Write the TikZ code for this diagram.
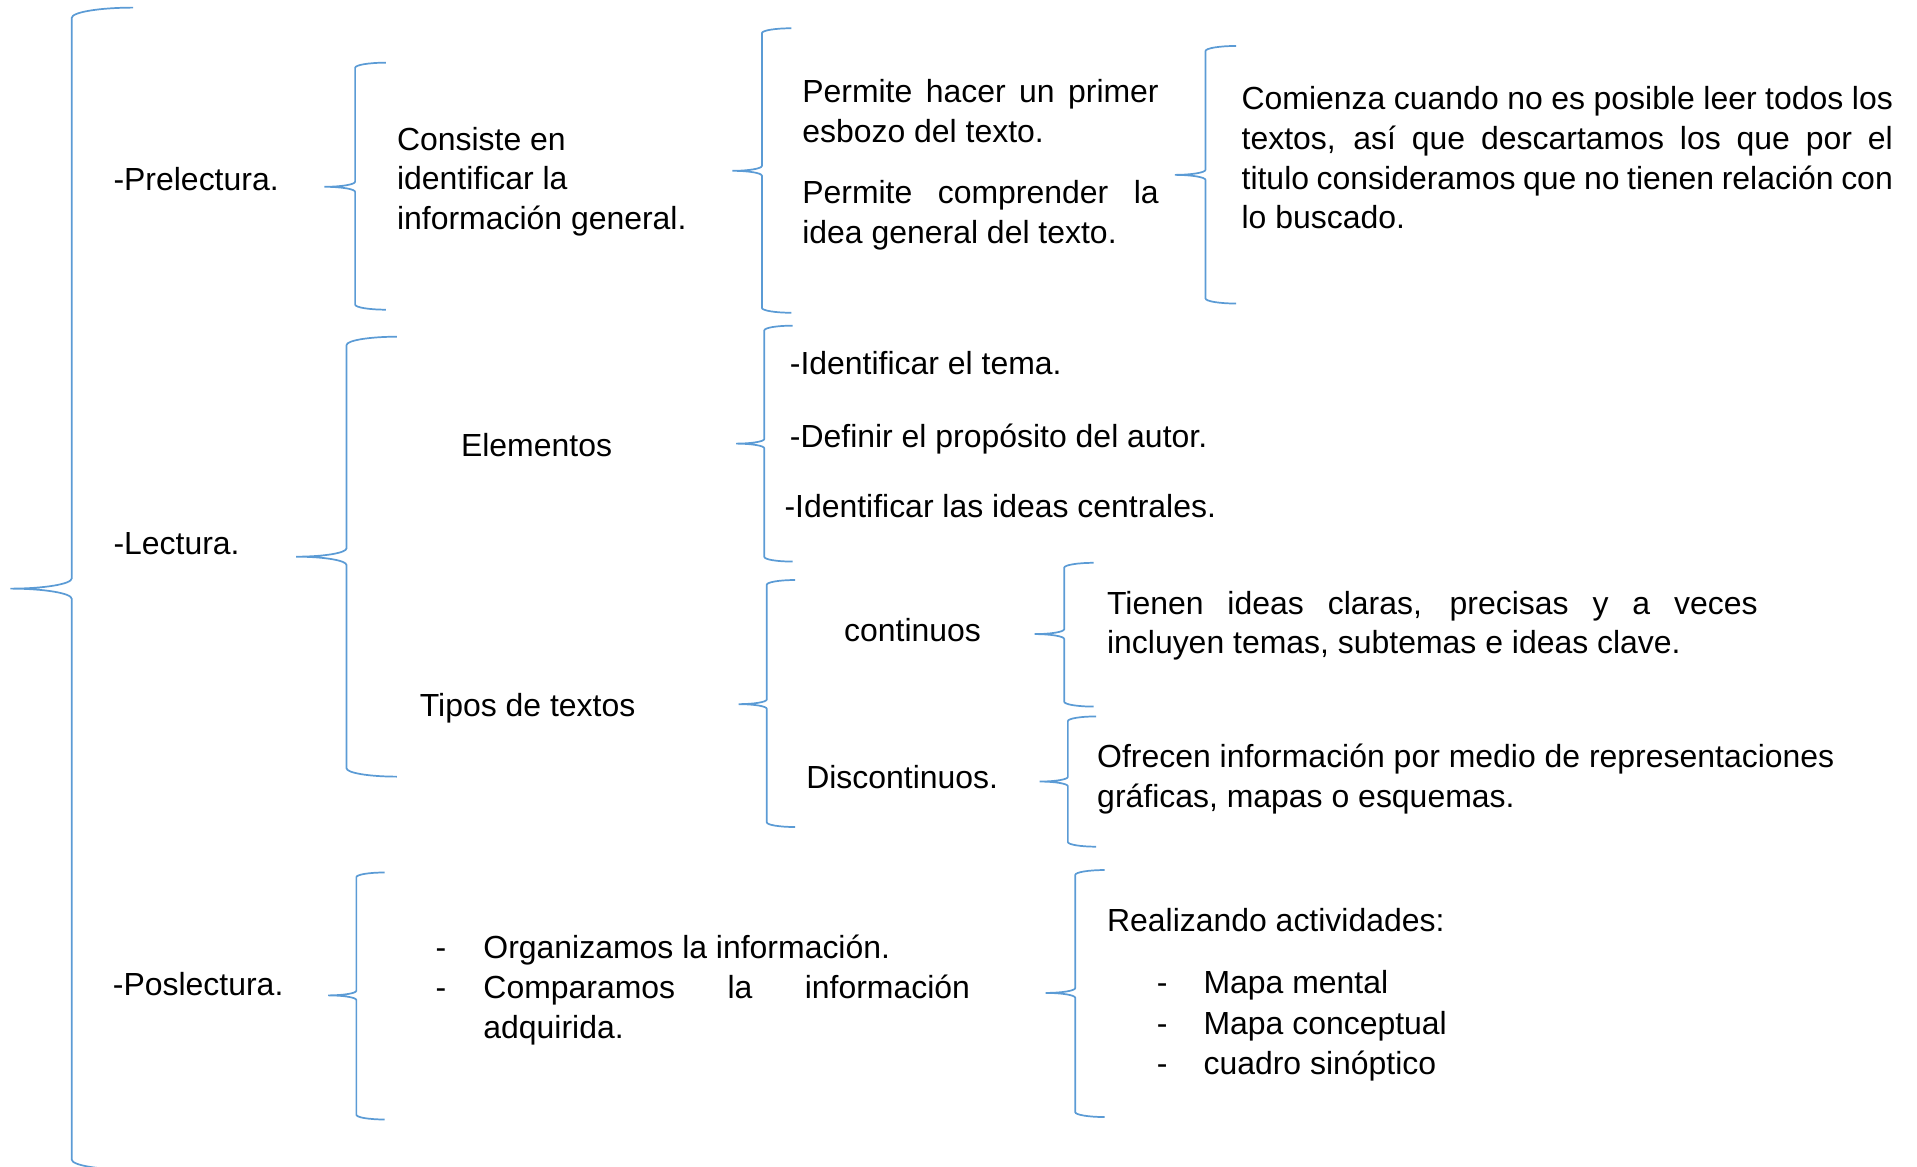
\documentclass[tikz,border=0pt]{standalone}
\usepackage{fontspec}
\setmainfont{Liberation Sans}
\usepackage{tikz}
\definecolor{azul}{RGB}{91,155,213}
\tolerance=9999
% llave: x, arriba, medio, abajo, ancho
\newcommand{\llave}[5]{%
	\draw[llave] ({#1+#5},#2) .. controls ({#1+0.448*#5},#2) and (#1,{#2+0.0747*#5}) .. (#1,{#2+#5/6})
	-- (#1,{#3-#5/6}) .. controls (#1,{#3-0.0747*#5}) and ({#1-0.448*#5},#3) .. ({#1-#5},#3)
	.. controls ({#1-0.448*#5},#3) and (#1,{#3+0.0747*#5}) .. (#1,{#3+#5/6})
	-- (#1,{#4-#5/6}) .. controls (#1,{#4-0.0747*#5}) and ({#1+0.448*#5},#4) .. ({#1+#5},#4);}

\begin{document}
\begin{tikzpicture}[x=0.5pt,y=-0.5pt,
	font=\fontsize{13}{16.2}\selectfont,
	llave/.style = {draw=azul,line width=0.7pt},
	txt/.style = {anchor=base west,inner sep=0pt},
	parrafo/.style = {txt,align=justify}
	]
	\useasboundingbox (0,0) rectangle (1560,949);
	%LLAVES
	\llave{58.4}{6.2}{479}{952}{50}
	\llave{289}{51}{152}{252}{25}
	\llave{282}{274}{453}{632}{41}
	\llave{290}{710}{810}{911}{23}
	\llave{620}{23}{139}{254.5}{24}
	\llave{981}{37.4}{142.3}{247}{25}
	\llave{622}{265}{361}{457}{23}
	\llave{624}{472}{573}{673}{23}
	\llave{866}{458}{516}{575}{24}
	\llave{869}{583}{636}{689}{23}
	\llave{875}{708}{808}{909}{24}
	%ETAPAS
	\node[txt] (pre) at (92,154.8) {-Prelectura.};
	\node[txt] (lec) at (92,451.6) {-Lectura.};
	\node[txt] (pos) at (91.5,810.2) {-Poslectura.};
	%PRELECTURA (base = ultima linea)
	\node[txt,align=left] (cons) at (322.7,186.9) {Consiste en\\identificar la\\información general.};
	\node[parrafo,text width=145pt] (perm1) at (652.5,83.5) {Permite hacer un primer esbozo del texto.};
	\node[parrafo,text width=145pt] (perm2) at (652.5,165.7) {Permite comprender la idea general del texto.};
	\node[parrafo,text width=265pt] (com) at (1010,89.1) {Comienza cuando no es posible leer todos los\linebreak textos, así que descartamos los que por el\linebreak titulo consideramos que no tienen relación con\linebreak lo buscado.};
	%LECTURA
	\node[txt] (elem) at (374.8,371.2) {Elementos};
	\node[txt] (tema) at (642.4,304.6) {-Identificar el tema.};
	\node[txt] (autor) at (642.4,364.4) {-Definir el propósito del autor.};
	\node[txt] (ideas) at (638,421) {-Identificar las ideas centrales.};
	\node[txt] (tipos) at (341.3,583.1) {Tipos de textos};
	\node[txt] (cont) at (686.6,521.8) {continuos};
	\node[txt] (disc) at (655.7,641.3) {Discontinuos.};
	\node[parrafo,text width=264.75pt] (tien) at (900.5,499.7) {Tienen ideas claras, precisas y a veces\linebreak incluyen temas, subtemas e ideas clave.};
	\node[txt,align=left] (ofr) at (892.5,657) {Ofrecen información por medio de representaciones\\gráficas, mapas o esquemas.};
	%POSLECTURA
	\node[txt] (g1) at (354,779.7) {-};
	\node[txt] (org) at (393,779.7) {Organizamos la información.};
	\node[txt] (g2) at (354,812.7) {-};
	\node[parrafo,text width=198pt] (comp) at (393,812.7) {Comparamos la información\linebreak adquirida.};
	\node[txt] (real) at (900.5,758.3) {Realizando actividades:};
	\node[txt] (g3) at (941,808.6) {-};
	\node[txt] (mm) at (979,808.6) {Mapa mental};
	\node[txt] (g4) at (941,842) {-};
	\node[txt] (mc) at (979,842) {Mapa conceptual};
	\node[txt] (g5) at (941,874) {-};
	\node[txt] (cs) at (979,874) {cuadro sinóptico};
\end{tikzpicture}
\end{document}
